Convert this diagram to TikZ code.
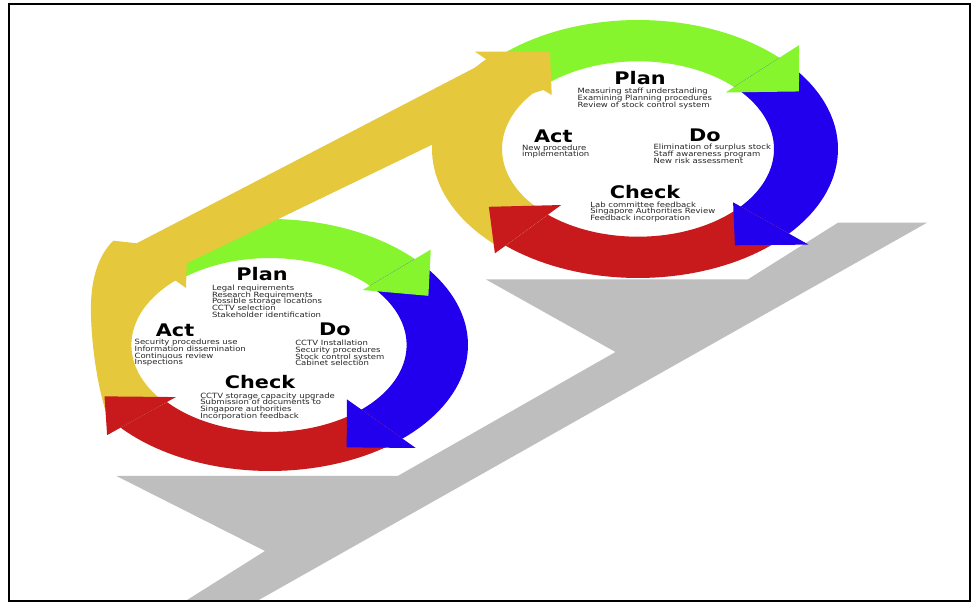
\documentclass[tikz,border=0pt]{standalone}
\usepackage{fontspec}
\setsansfont{DejaVu Sans}
\begin{document}
\setlength{\lineskiplimit}{-10pt}%
\begin{tikzpicture}[x=0.75pt,y=-0.75pt,
  title/.style={font=\sffamily\bfseries\fontsize{13}{13}\selectfont, xscale=1.2, inner sep=0pt},
  body/.style={font=\sffamily\fontsize{5.4}{5}\selectfont,
    align=left, xscale=1.18, anchor=north west, inner sep=0pt, text=black!85}]
\definecolor{pgreen}{HTML}{86F52E}
\definecolor{pblue}{HTML}{2200EE}
\definecolor{pred}{HTML}{C81A1C}
\definecolor{pyellow}{HTML}{E6C83C}
\definecolor{pgray}{HTML}{BEBEBE}
% ring helpers: centre and radii, then bands and heads in normalised polar terms
\newcommand\setring[4]{\def\rcx{#1}\def\rcy{#2}\def\rrx{#3}\def\rry{#4}}
\newcommand\ringband[5]{\fill[#1] plot[domain=#2:#3,samples=40] ({\rcx+\rrx*#5*cos(\x)},{\rcy+\rry*#5*sin(\x)}) -- plot[domain=#3:#2,samples=40] ({\rcx+\rrx*#4*cos(\x)},{\rcy+\rry*#4*sin(\x)}) -- cycle;}
\newcommand\ringhead[6]{\fill[#1] ({\rcx+\rrx*#4*cos(#2)},{\rcy+\rry*#4*sin(#2)}) -- ({\rcx+\rrx*#5*cos(#2)},{\rcy+\rry*#5*sin(#2)}) -- ({\rcx+\rrx*#6*cos(#3)},{\rcy+\rry*#6*sin(#3)}) -- cycle;}

\useasboundingbox (0,0) rectangle (978,605);
\fill[white] (0,0) rectangle (978,605);

% grey stair shape
\fill[pgray] (116.5,476) -- (397.7,476) -- (615.5,352) -- (486,279.5) -- (747.7,279.5)
  -- (838,222.7) -- (927,222.7) -- (257,601) -- (185.5,601) -- (265,551) -- cycle;

% upper cycle bands
\setring{638}{149}{200}{129}
\ringband{pgreen}{222}{315}{0.68}{1}
\ringband{pblue}{315}{401}{0.68}{1}
\ringband{pred}{41}{131.5}{0.68}{1}
\ringband{pyellow}{131.5}{223}{0.68}{1.03}
% lower cycle bands
\setring{270}{345}{198}{126}
\ringband{pgreen}{228}{317}{0.69}{1}
\ringband{pblue}{317}{408}{0.69}{1}
\ringband{pred}{48}{139}{0.69}{1}

% long yellow arrow: lower Act arc, diagonal shaft and head entering the upper cycle
\fill[pyellow] plot[domain=139:227,samples=40] ({270+198*0.7*cos(\x)},{345+126*0.7*sin(\x)})
  -- (186,288) -- (186.7,263.3) -- (435,143.3) -- (478,111.5) -- (543.3,90)
  -- (551.7,95) -- (550,51.7) -- (475,51.7) -- (488.3,60.7) -- (136.7,243.3)
  -- (113.3,240.7) .. controls (98,256) and (90,280) .. (91,315)
  .. controls (92,355) and (100,400) .. (112,430) -- cycle;

% arrow heads
\setring{638}{149}{200}{129}
\ringhead{pgreen}{315}{331}{0.62}{1.14}{0.92}
\ringhead{pblue}{41}{57}{0.63}{1.13}{0.89}
\ringhead{pred}{131.5}{149}{0.58}{1.08}{0.87}
\setring{270}{345}{198}{126}
\ringhead{pgreen}{317}{334}{0.64}{1.11}{0.89}
\ringhead{pblue}{48}{64.5}{0.58}{1.1}{0.9}
\ringhead{pred}{139}{154}{0.63}{1.09}{0.93}

% lower cycle texts
\node[title] (lplan) at (262,274) {Plan};
\node[body] (lplant) at (211.7,284.6) {Legal requirements\\Research Requirements\\Possible storage locations\\CCTV selection\\Stakeholder identification};
\node[title] (lact) at (175,330.8) {Act};
\node[body] (lactt) at (134.3,339.2) {Security procedures use\\Information dissemination\\Continuous review\\Inspections};
\node[title] (ldo) at (335,329.7) {Do};
\node[body] (ldot) at (295,340) {CCTV Installation\\Security procedures\\Stock control system\\Cabinet selection};
\node[title] (lcheck) at (260,381.7) {Check};
\node[body] (lcheckt) at (200,392.3) {CCTV storage capacity upgrade\\Submission of documents to\\Singapore authorities\\Incorporation feedback};

% upper cycle texts
\node[title] (uplan) at (640,78.3) {Plan};
\node[body] (uplant) at (577.3,88) {Measuring staff understanding\\Examining Planning procedures\\Review of stock control system};
\node[title] (uact) at (553.3,136.3) {Act};
\node[body] (uactt) at (521.7,144.6) {New procedure\\implementation};
\node[title] (udo) at (705,135) {Do};
\node[body] (udot) at (653.3,144) {Elimination of surplus stock\\Staff awareness program\\New risk assessment};
\node[title] (ucheck) at (645,192.3) {Check};
\node[body] (ucheckt) at (590,201.3) {Lab committee feedback\\Singapore Authorities Review\\Feedback incorporation};

% frame
\draw[line width=1.5] (8.5,4) rectangle (970,601);
\end{tikzpicture}
\end{document}
